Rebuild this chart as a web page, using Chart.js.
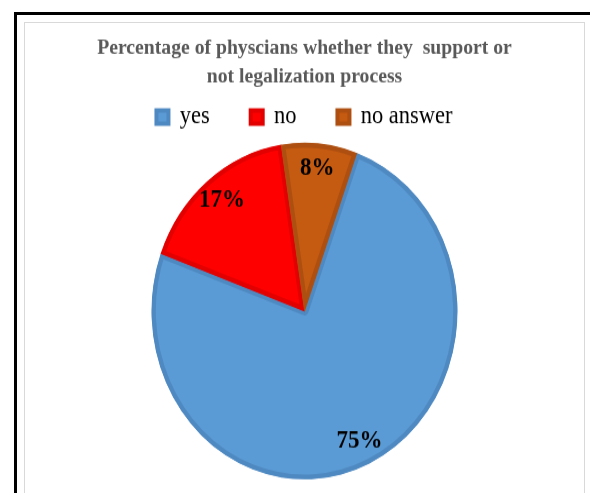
<!DOCTYPE html>
<html>
<head>
<meta charset="utf-8">
<script src="https://cdn.jsdelivr.net/npm/chart.js@4/dist/chart.umd.min.js"></script>
<style>
  html, body { margin: 0; padding: 0; background: #fff; overflow: hidden; }
  .frame { position: absolute; left: 14px; top: 12px; width: 700px; height: 600px;
           border-left: 3px solid #000; border-top: 3px solid #000; }
  .plot { position: absolute; left: 24px; top: 22px; width: 561px; height: 520px;
          border: 1px solid #d9d9d9; box-sizing: border-box; }
  .stretch { position: absolute; left: 0; top: 0; transform: scaleY(1.1); transform-origin: 0 0; }
</style>
</head>
<body>
<div class="frame"></div>
<div class="plot"><div class="stretch"><canvas id="chart" width="559" height="430"></canvas></div></div>
<script>
const answers = ["yes", "no", "no answer"];
const shares = [75, 17, 8];
const titleLines = ["Percentage of physcians whether they  support or", "not legalization process"];

const fills = ["#5b9bd5", "#ff0000", "#c55a11"];
const edges = ["#4f89c1", "#e20000", "#ad4f10"];
const serif = "'Liberation Serif', 'Times New Roman', serif";

// percentage text inside each slice
const sliceLabels = {
    id: "sliceLabels",
    afterDatasetsDraw(chart) {
        const ctx = chart.ctx;
        const meta = chart.getDatasetMeta(0);
        ctx.save();
        ctx.font = "bold 23px " + serif;
        ctx.fillStyle = "#000";
        ctx.textAlign = "center";
        ctx.textBaseline = "middle";
        meta.data.forEach(function (arc, i) {
            const p = arc.getProps(["x", "y", "startAngle", "endAngle", "outerRadius"], true);
            const mid = (p.startAngle + p.endAngle) / 2;
            const r = p.outerRadius * 0.85;
            ctx.fillText(shares[i] + "%", p.x + Math.cos(mid) * r, p.y + Math.sin(mid) * r);
        });
        ctx.restore();
    }
};

new Chart(document.getElementById("chart").getContext("2d"), {
    type: "pie",
    data: {
        labels: answers,
        datasets: [{
            data: shares,
            backgroundColor: fills,
            borderColor: edges,
            borderWidth: 4,
            borderAlign: "inner",
            radius: 153
        }]
    },
    options: {
        responsive: false,
        animation: false,
        rotation: 20,
        layout: { padding: { bottom: 13 } },
        plugins: {
            title: {
                display: true,
                text: titleLines,
                color: "#595959",
                font: { family: serif, size: 19.7, weight: "bold", lineHeight: 1.3 },
                // legend padding also pads above its row, so pull it up under the title
                padding: { top: 10, bottom: -28 }
            },
            legend: {
                position: "top",
                labels: {
                    color: "#000",
                    font: { family: serif, size: 22.5 },
                    boxWidth: 12,
                    boxHeight: 12,
                    padding: 41
                }
            },
            tooltip: { enabled: false }
        }
    },
    plugins: [sliceLabels]
});
</script>
</body>
</html>
